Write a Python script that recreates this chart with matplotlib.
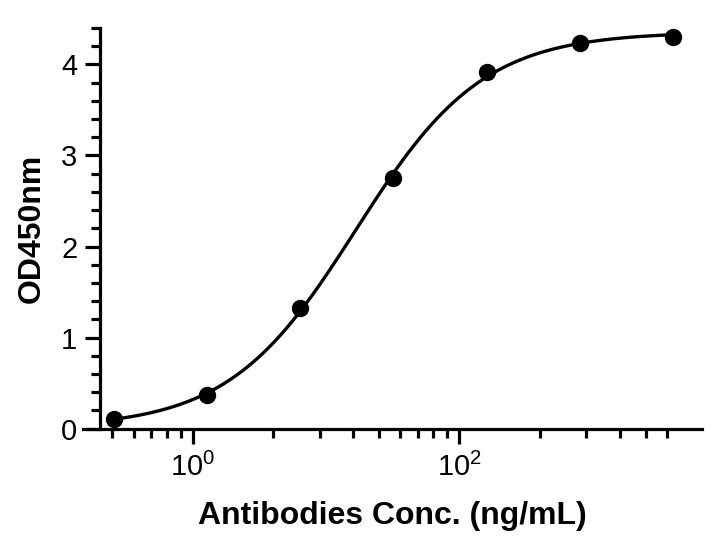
import numpy as np
import matplotlib
matplotlib.use("Agg")
import matplotlib.pyplot as plt
from matplotlib.ticker import FixedLocator, NullFormatter, FixedFormatter

# ---- data ----
conc = [0.256, 1.28, 6.4, 32, 160, 800, 4000]          # ng/mL
od450 = [0.107, 0.37, 1.33, 2.75, 3.92, 4.23, 4.30]
x_major = [1, 100]
x_major_labels = ["$\\mathregular{10^{0}}$", "$\\mathregular{10^{2}}$"]
y_major = [0, 1, 2, 3, 4]
xlabel = "Antibodies Conc. (ng/mL)"
ylabel = "OD450nm"

# ---- 4PL fit (Levenberg-Marquardt in numpy) ----
lx = np.log10(np.array(conc, float))
yy = np.array(od450, float)

def model(p, l):
    b, t, c, h = p
    return b + (t - b) / (1 + 10 ** ((c - l) * h))

p = np.array([yy.min(), yy.max(), np.median(lx), 1.0])
lam = 1e-2
for _ in range(500):
    r = yy - model(p, lx)
    J = np.empty((len(lx), 4))
    for i in range(4):
        dp = np.zeros(4); dp[i] = 1e-6
        J[:, i] = (model(p + dp, lx) - model(p - dp, lx)) / 2e-6
    A = J.T @ J
    g = J.T @ r
    step = np.linalg.solve(A + lam * np.diag(np.diag(A)), g)
    pn = p + step
    if np.sum((yy - model(pn, lx)) ** 2) < np.sum(r ** 2):
        p = pn; lam *= 0.5
    else:
        lam *= 3
lcurve = np.linspace(lx.min(), lx.max(), 400)
ycurve = model(p, lcurve)

# ---- figure ----
plt.rcParams['font.family'] = ['Liberation Sans', 'DejaVu Sans']
plt.rcParams['mathtext.fontset'] = 'custom'
plt.rcParams['mathtext.rm'] = 'Liberation Sans'

fig = plt.figure(figsize=(7.13, 5.43), dpi=100)
ax = fig.add_axes([83.3 / 713, 1 - 428.7 / 543, (701.7 - 83.3) / 713, (428.7 - 28) / 543])

ax.plot(10 ** lcurve, ycurve, color='black', lw=2.4, zorder=3)
ax.plot(conc, od450, 'o', color='black', ms=11.5, zorder=4, clip_on=False)

ax.set_xscale('log')
ax.set_xlim(0.151, 6585)
ax.set_ylim(0, 4.4)

for s in ['top', 'right']:
    ax.spines[s].set_visible(False)
ax.spines['left'].set_position(('data', 0.2))
for s in ['left', 'bottom']:
    ax.spines[s].set_linewidth(2.3)

# x ticks
ax.xaxis.set_major_locator(FixedLocator(x_major))
ax.xaxis.set_major_formatter(FixedFormatter(x_major_labels))
minor = [k * k * 10.0 ** (2 * n) for n in (-1, 0, 1) for k in range(2, 10)]
minor = [v for v in minor if 0.2 <= v <= 4000]
ax.xaxis.set_minor_locator(FixedLocator(minor))
ax.xaxis.set_minor_formatter(NullFormatter())

# y ticks
ax.yaxis.set_major_locator(FixedLocator(y_major))
ax.yaxis.set_minor_locator(FixedLocator(np.arange(0.2, 4.41, 0.2)))

ax.tick_params(which='major', length=11, width=2.3, labelsize=21, pad=5, direction='out')
ax.tick_params(which='minor', length=6.5, width=2.3, direction='out')
ax.tick_params(axis='x', which='major', pad=6)

ax.set_xlabel(xlabel, fontsize=23, fontweight='bold', labelpad=14)
ax.set_ylabel(ylabel, fontsize=23, fontweight='bold', labelpad=10)

fig.savefig('out.png', dpi=100)
